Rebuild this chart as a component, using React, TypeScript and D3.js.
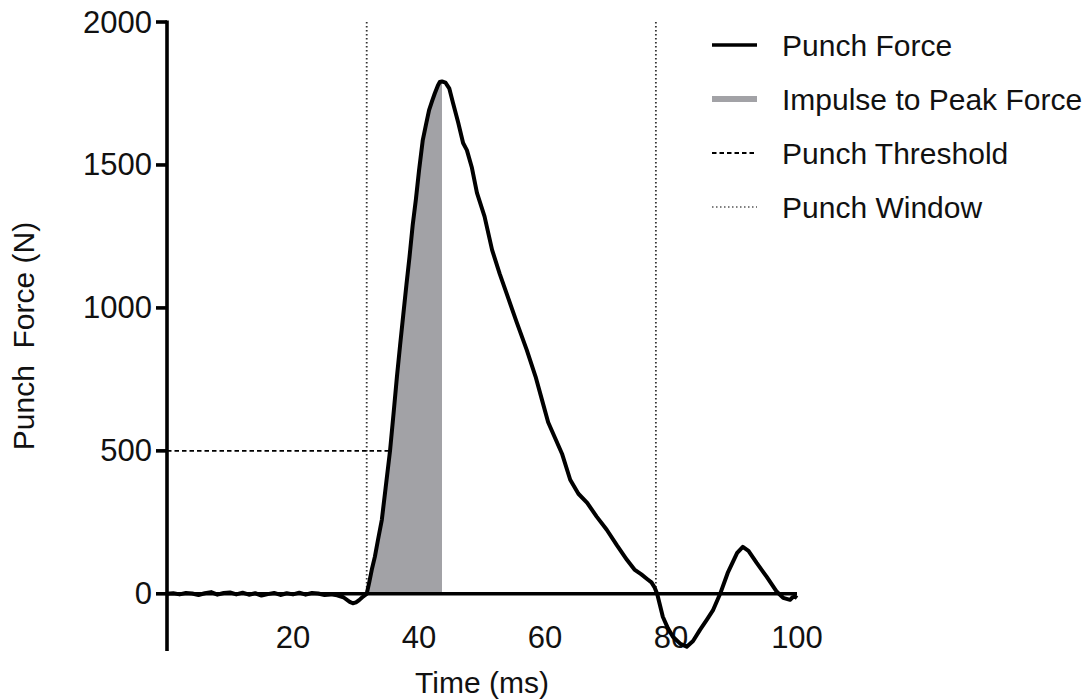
import React from "react";
import * as d3 from "d3";

// Punch force trace
const timeMs = [
  0, 1, 2, 3, 4, 5, 6, 7, 8, 9, 10, 11, 12, 13, 14, 15, 16, 17, 18, 19, 20, 21, 22, 23, 24, 25, 26,
  27, 28, 29, 29.5, 30, 30.5, 31, 31.7, 32.1, 32.5, 33, 33.5, 34.1, 34.7, 35.4, 36, 36.5, 37, 37.5,
  38, 38.5, 39, 39.5, 40, 40.6, 41.1, 41.6, 42.1, 42.5, 43, 43.3, 43.65, 44.2, 44.8, 45.4, 46.2, 47,
  47.6, 48.4, 49.2, 50.4, 51.6, 52.8, 54, 55.5, 57.1, 58.5, 59.5, 60.5, 61.6, 62.7, 64, 65.3, 66.7,
  68.2, 69.8, 71.4, 73, 74.2, 75.3, 76.2, 76.9, 77.4, 77.8, 78.7, 79.5, 80.3, 81.5, 82.5, 83.5, 84.6,
  85.7, 86.7, 87.8, 89, 90.5, 91.4, 92.3, 93.6, 95.2, 96.8, 97.8, 98.9, 99.3, 99.7, 100,
];
const forceN = [
  0, 2, -2, 3, 1, -4, 2, 6, -3, 3, 5, -2, 4, -3, 2, -6, -1, 3, -4, 2, -2, 4, -3, 3, 1, -4, -2,
  -5, -12, -28, -33, -30, -22, -12, 0, 40, 84, 130, 190, 259, 370, 500, 640, 760, 870, 975,
  1080, 1180, 1290, 1378, 1480, 1587, 1640, 1692, 1725, 1750, 1778, 1790, 1792, 1788, 1768, 1717, 1650, 1577,
  1552, 1490, 1402, 1320, 1203, 1120, 1045, 950, 853, 760, 680, 600, 545, 490, 399, 350, 318,
  270, 224, 170, 119, 85, 68, 52, 40, 22, 0, -80, -120, -150, -175, -185, -165, -126,
  -90, -56, 0, 73, 143, 164, 150, 108, 59, 7, -14, -21, -12, -10, -15,
];

const yTicks = [0, 500, 1000, 1500, 2000];
const xTicks = [20, 40, 60, 80, 100];
const threshold = 500;
const thresholdTime = 35.4;
const windowStart = 31.7;
const windowEnd = 77.6;
const peakTime = 43.65;

const legendItems = [
  { label: "Punch Force", kind: "force" },
  { label: "Impulse to Peak Force", kind: "impulse" },
  { label: "Punch Threshold", kind: "threshold" },
  { label: "Punch Window", kind: "window" },
];

const FONT = "'Liberation Sans', Arial, Helvetica, sans-serif";
const GRAY = "#a2a2a6";

export default function App() {
  const width = 1090;
  const height = 699;

  const x = d3.scaleLinear().domain([0, 100]).range([167, 797]);
  const y = d3.scaleLinear().domain([-200, 2000]).range([651, 22]);

  const points = timeMs.map((t, i) => ({ t, f: forceN[i] }));

  const line = d3
    .line<{ t: number; f: number }>()
    .x((d) => x(d.t))
    .y((d) => y(d.f));

  const area = d3
    .area<{ t: number; f: number }>()
    .x((d) => x(d.t))
    .y0(y(0))
    .y1((d) => y(d.f));

  const impulse = points.filter((d) => d.t >= windowStart && d.t <= peakTime);

  return (
    <svg
      width={width}
      height={height}
      style={{ position: "absolute", left: 0, top: 0, background: "#fff" }}
      fontFamily={FONT}
    >
      {/* impulse fill */}
      <path d={area(impulse) ?? ""} fill={GRAY} stroke="none" />

      {/* punch window */}
      {[windowStart, windowEnd].map((t) => (
        <line
          key={t}
          x1={x(t)}
          x2={x(t)}
          y1={y(2000)}
          y2={y(0)}
          stroke="#333"
          strokeWidth={1.8}
          strokeDasharray="1.5,2.5"
        />
      ))}

      {/* threshold */}
      <line
        x1={x(0)}
        x2={x(thresholdTime)}
        y1={y(threshold)}
        y2={y(threshold)}
        stroke="#000"
        strokeWidth={1.8}
        strokeDasharray="4.5,3"
      />

      {/* axes */}
      <line x1={x(0)} x2={x(0)} y1={y(2000) - 1.5} y2={y(-200)} stroke="#000" strokeWidth={3.6} />
      <line x1={x(0)} x2={x(100)} y1={y(0)} y2={y(0)} stroke="#000" strokeWidth={3.6} />
      {yTicks.map((v) => (
        <g key={v}>
          <line x1={x(0) - 11} x2={x(0)} y1={y(v)} y2={y(v)} stroke="#000" strokeWidth={3.6} />
          <text
            x={x(0) - 15}
            y={y(v)}
            textAnchor="end"
            dominantBaseline="central"
            fontSize={31}
            fill="#111"
          >
            {v}
          </text>
        </g>
      ))}
      {xTicks.map((v) => (
        <text key={v} x={x(v)} y={648} textAnchor="middle" fontSize={31} fill="#111">
          {v}
        </text>
      ))}

      {/* force trace */}
      <path
        d={line(points) ?? ""}
        fill="none"
        stroke="#000"
        strokeWidth={4}
        strokeLinejoin="round"
      />

      {/* axis titles */}
      <text x={482} y={693} textAnchor="middle" fontSize={30} fill="#111">
        Time (ms)
      </text>
      <text
        transform="translate(34,336) rotate(-90)"
        textAnchor="middle"
        fontSize={30}
        fill="#111"
        style={{ whiteSpace: "pre" }}
      >
        {"Punch  Force (N)"}
      </text>

      {/* legend */}
      {legendItems.map((item, i) => {
        const ly = 45 + i * 54;
        let stroke = "#000";
        let sw = 3.6;
        let dash: string | undefined;
        if (item.kind === "impulse") {
          stroke = GRAY;
          sw = 6;
        } else if (item.kind === "threshold") {
          sw = 1.8;
          dash = "4.5,3";
        } else if (item.kind === "window") {
          stroke = "#555";
          sw = 1.6;
          dash = "1.5,2.5";
        }
        return (
          <g key={item.label}>
            <line x1={712} x2={757} y1={ly} y2={ly} stroke={stroke} strokeWidth={sw} strokeDasharray={dash} />
            <text x={782} y={ly} dominantBaseline="central" fontSize={30} fill="#111">
              {item.label}
            </text>
          </g>
        );
      })}
    </svg>
  );
}
